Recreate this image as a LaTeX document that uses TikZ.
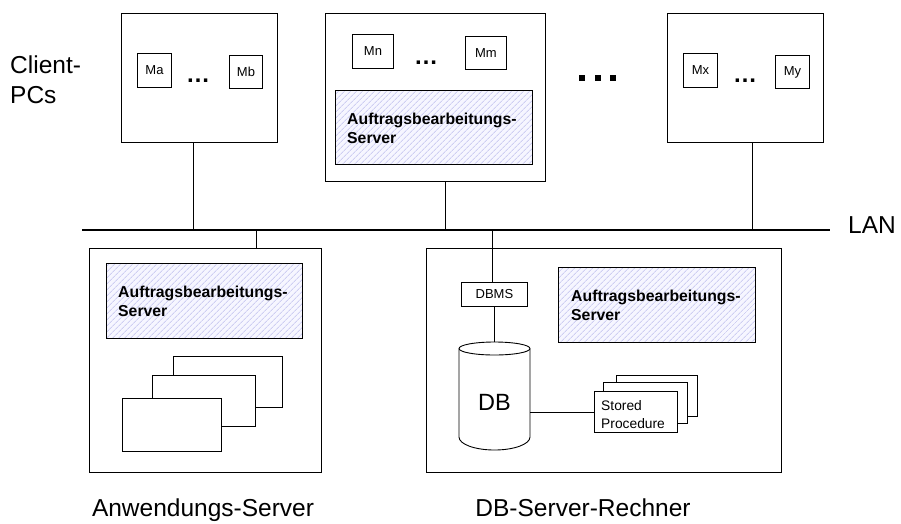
\documentclass[tikz,border=0pt]{standalone}
\usepackage{fontspec}
\setmainfont{Liberation Sans}
\usetikzlibrary{patterns.meta}

\definecolor{hatchbg}{RGB}{246,246,255}
\definecolor{hatchln}{RGB}{206,206,242}

\newcommand{\bigfont}{\fontsize{24.5}{30}\selectfont}
\newcommand{\boldfont}{\fontsize{15.8}{19}\selectfont\bfseries}
\newcommand{\smallfont}{\fontsize{13}{16}\selectfont}

% rectangle node from its corners (pixel-like units, y pointing down)
\newcommand{\cornerbox}[6]{%
  \node[#6, anchor=north west, minimum width={(#4-#2)*1pt}, minimum height={(#5-#3)*1pt}] (#1) at (#2,#3) {};}

\tikzset{
  box/.style={draw, line width=0.9pt, inner sep=0pt, fill=white},
  hatchbox/.style={draw, line width=0.9pt, inner sep=0pt,
    preaction={fill=hatchbg},
    preaction={pattern={Lines[angle=45,distance=4pt,line width=0.9pt]}, pattern color=hatchln}},
  wire/.style={line width=0.9pt},
  lanline/.style={line width=2.6pt},
  big/.style={font=\bigfont, inner sep=0pt},
  bold/.style={font=\boldfont, inner sep=0pt, anchor=base west},
  small/.style={font=\smallfont, inner sep=0pt},
  dots/.style={font=\fontsize{24}{24}\selectfont\bfseries, inner sep=0pt, anchor=base},
}

\begin{document}
\begin{tikzpicture}[x=1pt, y=-1pt]
\useasboundingbox (0,0) rectangle (901,523);

% ---------- LAN ----------
\coordinate (lanL) at (82,230);
\coordinate (lanR) at (830,230);
\draw[lanline] (lanL) -- (lanR);
\node[big, anchor=base west] (lan) at (848,233) {LAN};

% LAN taps
\coordinate (t1) at (193,230);
\coordinate (t2) at (445,230);
\coordinate (t3) at (752,230);
\coordinate (t4) at (256,230);
\coordinate (t5) at (492,230);

% ---------- Client PCs ----------
\node[big, anchor=base west] (cl1) at (10,73) {Client-};
\node[big, anchor=base west] (cl2) at (10,103) {PCs};

% PC 1
\cornerbox{pc1}{121}{13}{277}{142}{box}
\node[box, small, anchor=north west, minimum width=34pt, minimum height=34pt] (ma) at (137,53) {Ma};
\node[box, small, anchor=north west, minimum width=33pt, minimum height=33pt] (mb) at (229,55) {Mb};
\node[dots] (d1) at (198,82) {…};

% PC 2
\cornerbox{pc2}{325}{13}{545}{181}{box}
\node[box, small, anchor=north west, minimum width=41pt, minimum height=34pt] (mn) at (352,34) {Mn};
\node[box, small, anchor=north west, minimum width=41pt, minimum height=33pt] (mm) at (465,36) {Mm};
\node[dots] (d2) at (426,64) {…};
\cornerbox{ab1}{335}{90}{532}{164}{hatchbox}
\node[bold] (ab1a) at (347,124) {Auftragsbearbeitungs-};
\node[bold] (ab1b) at (347,143) {Server};

% ellipsis between PCs
\foreach \px in {582,598,613}
  \fill (\px-2.8,75.2) rectangle (\px+2.8,80.8);

% PC 3
\cornerbox{pc3}{667}{13}{823}{142}{box}
\node[box, small, anchor=north west, minimum width=34pt, minimum height=34pt] (mx) at (683,53) {Mx};
\node[box, small, anchor=north west, minimum width=34pt, minimum height=33pt] (my) at (775,55) {My};
\node[dots] (d3) at (745,82) {…};

\draw[wire] (pc1.south -| t1) -- (t1);
\draw[wire] (pc2.south -| t2) -- (t2);
\draw[wire] (pc3.south -| t3) -- (t3);

% ---------- Anwendungs-Server ----------
\cornerbox{app}{89}{248}{321}{472}{box}
\draw[wire] (t4) -- (t4 |- app.north);
\cornerbox{ab2}{106}{263}{302}{338}{hatchbox}
\node[bold] (ab2a) at (118,297) {Auftragsbearbeitungs-};
\node[bold] (ab2b) at (118,316) {Server};
\cornerbox{w3}{173}{356}{282}{407}{box}
\cornerbox{w2}{152}{375}{255}{426}{box}
\cornerbox{w1}{122}{398}{221}{451}{box}
\node[big, anchor=base] (applbl) at (203,516) {Anwendungs-Server};

% ---------- DB-Server-Rechner ----------
\cornerbox{dbs}{426}{248}{781}{472}{box}
\node[box, small, anchor=north west, minimum width=66pt, minimum height=24pt] (dbms) at (461,282) {DBMS};
\draw[wire] (t5) -- (t5 |- dbms.north);

% database cylinder
\node[minimum width=71pt, minimum height=108pt, inner sep=0pt] (db) at (494.5,396) {};
\draw[wire, fill=white]
  (459,348.5) -- (459,437)
  arc[start angle=180, end angle=360, x radius=35.5pt, y radius=13pt]
  -- (530,348.5)
  arc[start angle=0, end angle=180, x radius=35.5pt, y radius=6.5pt] -- cycle;
\draw[wire] (459,348.5) arc[start angle=180, end angle=360, x radius=35.5pt, y radius=6.5pt];
\node[inner sep=0pt, font=\fontsize{23.5}{23.5}\selectfont] (dblbl) at (494.5,402) {DB};
\draw[wire] (dbms.south) -- (dbms.south |- db.north);

\cornerbox{ab3}{558}{267}{755}{342}{hatchbox}
\node[bold] (ab3a) at (571,301) {Auftragsbearbeitungs-};
\node[bold] (ab3b) at (571,320) {Server};

% stored procedures
\cornerbox{sp3}{616}{375}{697}{416}{box}
\cornerbox{sp2}{603}{382}{687}{423}{box}
\cornerbox{sp1}{594}{391}{677}{432}{box}
\node[small, font=\fontsize{13.8}{16}\selectfont, anchor=base west] (spa) at (601,410) {Stored};
\node[small, font=\fontsize{13.8}{16}\selectfont, anchor=base west] (spb) at (601,428) {Procedure};
\draw[wire] (sp1.west) -- (sp1.west -| db.east);

\node[big, anchor=base] (dblbl2) at (583,516) {DB-Server-Rechner};
\end{tikzpicture}
\end{document}
